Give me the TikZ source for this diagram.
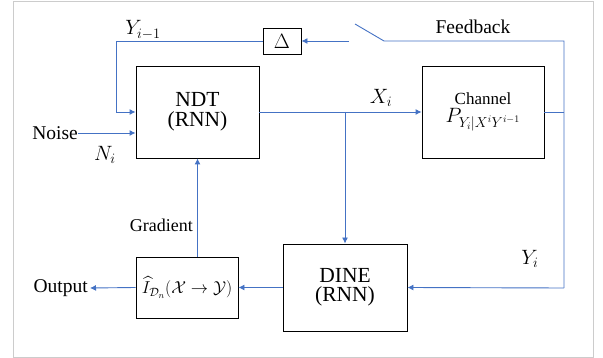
\documentclass[tikz,border=0pt]{standalone}
\usepackage{amsmath,amssymb}
\usepackage{fontspec}
\setmainfont{Liberation Serif}
\usetikzlibrary{arrows.meta}
\definecolor{lineblue}{RGB}{68,114,196}
\definecolor{framegray}{RGB}{204,204,204}
\newcommand{\fsbig}{\fontsize{21.5}{19.5}\selectfont}
\newcommand{\fsmid}{\fontsize{19.5}{22}\selectfont}
\tikzset{
  blk/.style={draw=black, line width=0.9pt, fill=white, align=center, inner sep=0pt},
  conn/.style={draw=lineblue, line width=0.9pt},
  arr/.style={conn, -{Latex[length=6pt,width=6pt]}},
  lbl/.style={inner sep=0pt, font=\fsmid},
}
\begin{document}
\begin{tikzpicture}[x=1pt,y=-1pt]
\useasboundingbox (0,0) rectangle (603,358);
\draw[framegray, line width=0.9pt] (13,1) rectangle (593,357);

\node[blk, minimum width=123pt, minimum height=92pt, font=\fsbig] (ndt) at (197.5,112) {NDT\\(RNN)};
\node[blk, minimum width=38pt, minimum height=26pt, font=\fsmid] (delta) at (282,41) {$\Delta$};
\node[blk, minimum width=122pt, minimum height=92pt, font=\fontsize{17}{18}\selectfont] (chan) at (483,112)
  {Channel\\{\fontsize{19.5}{20}\selectfont$P_{\text{\fontsize{14.5}{15}\selectfont$Y_i|X^iY^{i-1}$}}$}};
\node[blk, minimum width=102pt, minimum height=61pt, font=\fontsize{18}{20}\selectfont] (est) at (187,287.5) {$\widehat{I}_{\mathcal{D}_n}(\mathcal{X}\to\mathcal{Y})$};
\node[blk, minimum width=124pt, minimum height=87pt, font=\fsbig] (dine) at (345,287.5) {DINE\\(RNN)};

\coordinate (tl) at (116,41);
\coordinate (cr) at (564,41);
\coordinate (cb) at (564,288);
\coordinate (sw1) at (384,41);
\coordinate (sw2) at (355,24);
\coordinate (sw3) at (349,41);
\coordinate (br) at (345,112);
\coordinate (cre) at (564,112);
\coordinate (outend) at (90,288);
\coordinate (noisestart) at (78,133);

% feedback loop
\draw[conn] (cre) -- (chan.east |- cre);
\draw[conn] (cb) -- (cr) -- (sw1) -- (sw2);
\draw[arr] (sw3) -- (delta.east);
\draw[arr] (delta.west) -- (tl) -- (tl |- ndt.west) -- (ndt.west);
% noise
\draw[arr] (noisestart) -- (ndt.west |- noisestart);
% X_i
\draw[arr] (ndt.east) -- (chan.west);
\draw[arr] (br) -- (dine.north);
% Y_i
\draw[arr] (cb) -- (dine.east);
% estimator
\draw[arr] (dine.west) -- (est.east);
\draw[arr] (est.west) -- (outend);
\draw[arr] (ndt.south |- est.north) -- (ndt.south);

% labels
\node[lbl] (ylab) at (143,30) {$Y_{i-1}$};
\node[lbl] (fb) at (473,27) {Feedback};
\node[lbl] (xlab) at (381,98) {$X_i$};
\node[lbl] (nlab) at (105,155) {$N_i$};
\node[lbl] (yilab) at (530,259) {$Y_i$};
\node[lbl, anchor=east, font=\fontsize{18}{20}\selectfont] (grad) at (193,225) {Gradient};
\node[lbl, anchor=east] (noise) at (noisestart) {Noise};
\node[lbl, anchor=east] (out) at (88,288) {Output};
\end{tikzpicture}
\end{document}
